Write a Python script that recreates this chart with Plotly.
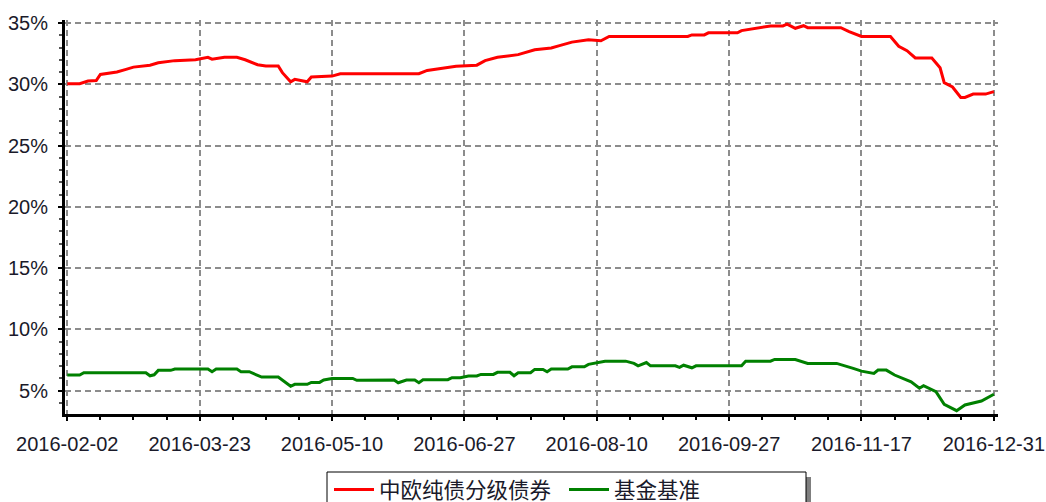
import plotly.graph_objects as go

# ---- data (trading-day index along the x axis, values in %) ----
tick_labels = ["2016-02-02", "2016-03-23", "2016-05-10", "2016-06-27",
               "2016-08-10", "2016-09-27", "2016-11-17", "2016-12-31"]
tick_index = [0, 32, 64, 96, 128, 160, 192, 224]

fund_name = "中欧纯债分级债券"
fund_idx = [0, 3, 5, 7, 8, 12, 14, 16, 20, 22, 26, 31, 34, 35, 38, 41, 43, 46, 48, 51,
            52, 54, 55, 58, 59, 64, 66, 85, 87, 92, 94, 99, 101, 104, 109, 113, 117, 119,
            122, 126, 129, 131, 150, 151, 154, 155, 162, 163, 167, 170, 173, 174, 176, 178,
            179, 187, 189, 192, 199, 201, 203, 205, 209, 211, 212, 214, 216, 217, 219, 222, 224]
fund_val = [30.05, 30.05, 30.27, 30.3, 30.8, 31.0, 31.2, 31.4, 31.55, 31.75, 31.93, 32.0, 32.2,
            32.05, 32.2, 32.2, 32.0, 31.6, 31.5, 31.5, 30.95, 30.2, 30.4, 30.2, 30.6, 30.67,
            30.86, 30.86, 31.13, 31.35, 31.48, 31.56, 31.93, 32.2, 32.42, 32.82, 32.96, 33.15,
            33.44, 33.63, 33.55, 33.9, 33.9, 34.03, 34.03, 34.2, 34.2, 34.38, 34.57, 34.76,
            34.76, 34.9, 34.57, 34.78, 34.62, 34.62, 34.3, 33.9, 33.9, 33.1, 32.74, 32.15,
            32.15, 31.35, 30.13, 29.78, 28.93, 28.93, 29.2, 29.2, 29.4]

bench_name = "基金基准"
bench_idx = [0, 3, 4, 19, 20, 21, 22, 25, 26, 34, 35, 36, 41, 42, 44, 46, 47, 51, 52, 54, 55,
             58, 59, 61, 62, 64, 69, 70, 79, 80, 82, 84, 85, 86, 92, 93, 95, 97, 99, 100, 103,
             104, 107, 108, 109, 112, 113, 115, 116, 117, 121, 122, 125, 126, 130, 135, 137,
             138, 140, 141, 147, 148, 149, 151, 152, 163, 164, 170, 171, 176, 179, 186, 190,
             192, 195, 196, 198, 200, 204, 206, 207, 210, 212, 215, 217, 219, 221, 224]
bench_val = [6.28, 6.28, 6.47, 6.47, 6.22, 6.3, 6.66, 6.66, 6.77, 6.77, 6.55, 6.77, 6.77, 6.55,
             6.55, 6.28, 6.11, 6.11, 5.87, 5.36, 5.52, 5.52, 5.68, 5.68, 5.87, 6.0, 6.0, 5.85,
             5.87, 5.65, 5.87, 5.87, 5.65, 5.9, 5.9, 6.06, 6.06, 6.2, 6.2, 6.33, 6.33, 6.5, 6.5,
             6.22, 6.47, 6.47, 6.74, 6.74, 6.55, 6.77, 6.77, 6.95, 6.95, 7.15, 7.41, 7.41, 7.23,
             7.03, 7.3, 7.03, 7.03, 6.9, 7.08, 6.87, 7.03, 7.03, 7.41, 7.41, 7.55, 7.55, 7.23,
             7.23, 6.82, 6.6, 6.41, 6.68, 6.68, 6.28, 5.73, 5.2, 5.41, 4.92, 3.89, 3.37, 3.84,
             4.02, 4.16, 4.71]

y_ticks = [5, 10, 15, 20, 25, 30, 35]

# ---- figure ----
W, H = 1046, 502
ML, MR, MT, MB = 65, 48, 20, 88
PW, PH = W - ML - MR, H - MT - MB


def px_x(px):
    return (px - ML) / PW


def px_y(py):
    return (H - MB - py) / PH


fig = go.Figure()
fig.add_trace(go.Scatter(x=fund_idx, y=fund_val, mode="lines", name=fund_name,
                         line=dict(color="#FF0000", width=3)))
fig.add_trace(go.Scatter(x=bench_idx, y=bench_val, mode="lines", name=bench_name,
                         line=dict(color="#008000", width=3)))

tick_font = dict(family="Liberation Sans, Arial, sans-serif", size=20, color="#1a1a2a")

minor_x = [v for v in range(0, 225, 8) if v % 32 != 0]

fig.update_xaxes(
    range=[-0.55, 225.0], automargin=False,
    tickmode="array", tickvals=tick_index, ticktext=tick_labels,
    showgrid=True, gridcolor="#8c8c8c", gridwidth=2, griddash="6px,4px",
    showline=True, linecolor="black", linewidth=3,
    ticks="outside", ticklen=4, tickcolor="black", tickwidth=2,
    minor=dict(tickmode="array", tickvals=minor_x, ticks="outside", ticklen=3,
               tickcolor="black", tickwidth=2, showgrid=False),
    zeroline=False, tickfont=tick_font, ticklabelstandoff=6,
)
fig.update_yaxes(
    range=[3.1, 35.245], automargin=False,
    tickmode="array", tickvals=y_ticks, ticktext=[f"{v}%" for v in y_ticks],
    showgrid=True, gridcolor="#8c8c8c", gridwidth=2, griddash="6px,4px",
    showline=True, linecolor="black", linewidth=3,
    ticks="outside", ticklen=4, tickcolor="black", tickwidth=2,
    minor=dict(dtick=1, tick0=0, ticks="outside", ticklen=3, tickcolor="#555",
               tickwidth=2, showgrid=False),
    zeroline=False, tickfont=tick_font, ticklabelstandoff=6,
)

# legend box with drop shadow (drawn as shapes, legend itself is transparent)
fig.add_shape(type="rect", xref="paper", yref="paper",
              x0=px_x(331), x1=px_x(811), y0=px_y(560), y1=px_y(477),
              fillcolor="#7f7f7f", line=dict(width=0), layer="above")
fig.add_shape(type="rect", xref="paper", yref="paper",
              x0=px_x(327), x1=px_x(806), y0=px_y(555), y1=px_y(472),
              fillcolor="white", line=dict(color="black", width=1), layer="above")

fig.update_layout(
    width=W, height=H, autosize=False,
    margin=dict(l=ML, r=MR, t=MT, b=MB, autoexpand=False),
    paper_bgcolor="white", plot_bgcolor="white",
    showlegend=True,
    legend=dict(orientation="h", x=px_x(329), xanchor="left", y=px_y(469), yanchor="top",
                bgcolor="rgba(0,0,0,0)", borderwidth=0,
                font=dict(family="Noto Sans CJK SC, Liberation Sans, sans-serif", size=21.5,
                          color="#1a1a2a"),
                entrywidth=180, entrywidthmode="pixels", itemwidth=40, tracegroupgap=0),
    hovermode=False,
)

fig.write_html("out.html", config={"displayModeBar": False},
               post_script="document.body.style.margin='0px';")
